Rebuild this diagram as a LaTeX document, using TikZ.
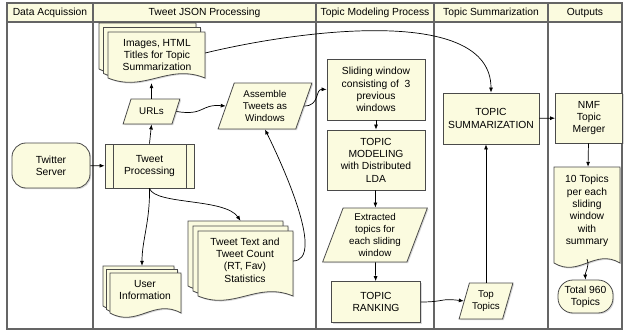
\documentclass[tikz,border=0pt]{standalone}
\usepackage{fontspec}
\setmainfont{Liberation Sans}
\usetikzlibrary{positioning, arrows.meta, shapes.geometric, shadows}
\definecolor{cream}{HTML}{FBFBDF}
\definecolor{edgegray}{HTML}{4A4A4A}
\tikzset{
  lane/.style={draw=edgegray!85, line width=1.1pt},
  head/.style={font=\fontsize{10.3}{12.3}\selectfont},
  box/.style={draw=edgegray, fill=cream, line width=0.8pt, align=center, inner sep=2pt,
    font=\fontsize{10.3}{12.3}\selectfont,
    drop shadow={shadow xshift=1.2pt, shadow yshift=-1.2pt, opacity=0.3}},
  para/.style={box, trapezium, trapezium left angle=#1, trapezium right angle=180-#1,
    trapezium stretches=true, font=\fontsize{9.8}{11.8}\selectfont},
  page/.style={draw=edgegray, fill=cream, line width=0.8pt,
    drop shadow={shadow xshift=1.2pt, shadow yshift=-1.2pt, opacity=0.3}},
  stack/.style={inner sep=0pt, draw=none},
  txt/.style={align=center, inner sep=0pt, font=\fontsize{10.3}{12.3}\selectfont},
  arr/.style={-{Latex[length=5pt, width=4pt]}, line width=0.7pt}
}
% one page with a wavy bottom, corners given top-left and bottom-right
\newcommand{\docpage}[4]{%
  \pgfmathsetmacro{\dw}{#3-#1}%
  \pgfmathsetmacro{\de}{#4-5}%
  \path[page] (#1,#2) -- (#3,#2) -- (#3,\de)
    .. controls ({#1+0.62*\dw},{\de-15}) and ({#1+0.38*\dw},{\de+15}) .. (#1,\de) -- cycle;}
% three pages, the front one given, the others shifted up-left
\newcommand{\docstack}[5]{%
  \foreach \k in {2,1,0}{\docpage{#1-\k*#5}{#2-\k*#5}{#3-\k*#5}{#4-\k*#5}}}

\begin{document}
\begin{tikzpicture}[x=1pt, y=-1pt]
  \useasboundingbox (0,0) rectangle (625,332);

  % Swimlanes
  \fill[cream] (7,3) rectangle (622,22);
  \draw[lane] (7,3) rectangle (622,329);
  \draw[lane] (7,22) -- (622,22);
  \foreach \x in {93,316,434,548} \draw[lane] (\x,3) -- (\x,329);

  % Lane titles
  \node[head] (h-acq) at (50,12.5) {Data Acquission};
  \node[head] (h-json) at (204.5,12.5) {Tweet JSON Processing};
  \node[head] (h-model) at (375,12.5) {Topic Modeling Process};
  \node[head] (h-summ) at (491,12.5) {Topic Summarization};
  \node[head] (h-out) at (585,12.5) {Outputs};

  % Documents
  \docstack{108}{32}{205}{83}{4.5}
  \node[stack, minimum width=106pt, minimum height=60pt] (images) at (152,53) {};
  \node[txt] (images-txt) at (157,55) {Images, HTML\\Titles for Topic\\Summarization};

  \docstack{110}{273}{181}{318}{3.5}
  \node[stack, minimum width=78pt, minimum height=52pt] (userinfo) at (142,292) {};
  \node[txt] (userinfo-txt) at (145,290) {User\\Information};

  \docstack{198}{231}{293}{301}{5}
  \node[stack, minimum width=105pt, minimum height=80pt] (tweettext) at (240.5,261) {};
  \node[txt] (tweettext-txt) at (245,260) {Tweet Text and\\Tweet Count\\(RT, Fav)\\Statistics};

  \docpage{554}{167}{620}{268}
  \node[stack, minimum width=66pt, minimum height=101pt] (tentopics) at (587,217.5) {};
  \node[txt] (tentopics-txt) at (587,211) {10 Topics\\per each\\sliding\\window\\with\\summary};

  % Data acquisition and JSON processing
  \node[box, rounded corners=14pt, minimum width=78pt, minimum height=45pt] (server) at (51,165.5) {Twitter\\Server};
  \node[box, minimum width=89pt, minimum height=44pt,
    path picture={\draw[edgegray, line width=0.6pt]
      ([xshift=8pt]path picture bounding box.north west) -- ([xshift=8pt]path picture bounding box.south west)
      ([xshift=-8pt]path picture bounding box.north east) -- ([xshift=-8pt]path picture bounding box.south east);}]
    (tproc) at (149.5,166) {Tweet\\Processing};
  \node[para=63, minimum width=57pt, minimum height=25pt] (urls) at (151.5,111.5) {URLs};
  \node[para=70, minimum width=94pt, minimum height=46pt] (assemble) at (265,106) {Assemble\\Tweets as\\Windows};

  % Topic modeling
  \node[box, minimum width=98pt, minimum height=61pt] (sliding) at (376,89.5) {Sliding window\\consisting of \ 3\\previous\\windows};
  \node[box, minimum width=98pt, minimum height=60pt] (modeling) at (376,160) {TOPIC\\MODELING\\with Distributed\\LDA};
  \node[para=69, minimum width=105pt, minimum height=54pt] (extracted) at (375,235) {Extracted\\topics for\\each sliding\\window};
  \node[box, minimum width=89pt, minimum height=41pt] (ranking) at (376,302) {TOPIC\\RANKING};

  % Summarization and outputs
  \node[box, minimum width=96pt, minimum height=51pt] (topsum) at (491,118.5) {TOPIC\\SUMMARIZATION};
  \node[para=68, minimum width=54pt, minimum height=36pt] (toptopics) at (486,301) {Top\\Topics};
  \node[box, minimum width=67pt, minimum height=50pt] (nmf) at (589,118) {NMF\\Topic\\Merger};
  \node[box, rounded corners=15pt, minimum width=55pt, minimum height=33pt] (total) at (585.5,296.5) {Total 960\\Topics};

  % Connectors
  \draw[arr] (server) -- (tproc);
  \draw[arr] (tproc.north) -- (urls.south);
  \draw[arr] (urls.north) -- (images.south -| urls.north);
  \draw[arr] (urls.east) .. controls (205,116) and (200,104) .. (assemble.west);
  \draw[arr] (images.east) .. controls (300,30) and (491,5) .. (topsum.north);
  \draw[arr] (assemble.east) .. controls (320,106) and (315,89) .. (sliding.west);
  \draw[arr] (tproc.south) .. controls (150,222) and (142,240) .. (userinfo.north);
  \draw[arr] (tproc.south) .. controls (155,205) and (225,198) .. (tweettext.north);
  \draw[arr] (tweettext.east) .. controls (325,260) and (285,170) .. (assemble.south);
  \draw[arr] (sliding) -- (modeling);
  \draw[arr] (modeling) -- (extracted);
  \draw[arr] (extracted) -- (ranking);
  \draw[arr] (ranking.east) .. controls (445,302) and (440,298) .. (toptopics.west);
  \draw[arr] (toptopics.north) -- (toptopics.north |- topsum.south);
  \draw[arr] (topsum) -- (nmf);
  \draw[arr] (nmf) -- (tentopics);
  \draw[arr] ([yshift=9pt]tentopics.south) .. controls (590,266) and (585,272) .. (total.north);
\end{tikzpicture}
\end{document}
